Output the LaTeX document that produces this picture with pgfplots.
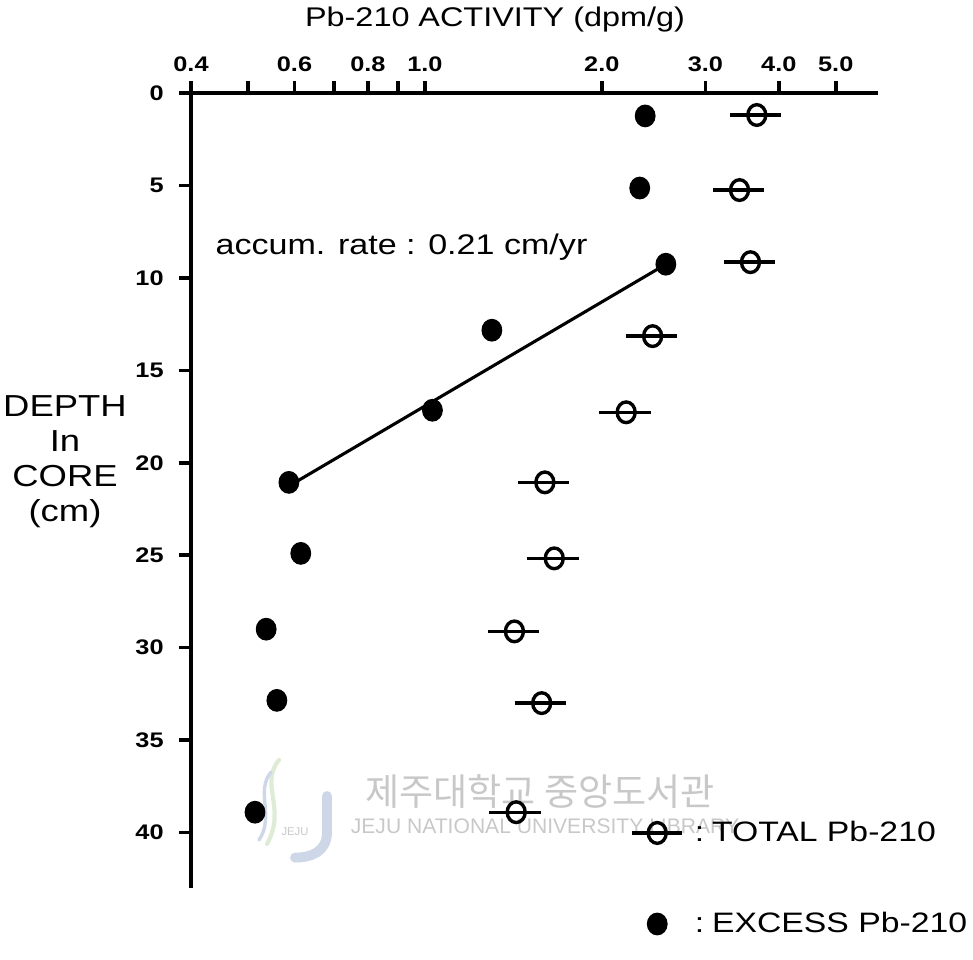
\documentclass[border=0pt]{standalone}
\usepackage{pgfplots}
\pgfplotsset{compat=1.18}
\usepackage{fontspec}
\setmainfont{Liberation Sans}[FakeStretch=1.2]
\newfontfamily\plainsans{Liberation Sans}
\newfontfamily\kr{Noto Sans CJK KR}
\definecolor{wm}{RGB}{200,200,200}
\definecolor{wmblue}{RGB}{205,215,232}
\definecolor{wmgreen}{RGB}{222,236,215}
\begin{document}
\begin{tikzpicture}[x=1cm,y=1cm]
\path[use as bounding box] (-2.3875,-0.8875) rectangle (9.775,11.1);
% watermark
\draw[line width=3.5pt, wmblue, line cap=round] (1.7,1.15) -- (1.7,0.7) .. controls (1.7,0.45) and (1.5,0.38) .. (1.3,0.38);
\draw[line width=1.5pt, wmgreen, line cap=round] (1.1,1.6) .. controls (0.85,1.3) and (1.2,1.0) .. (0.95,0.55);
\draw[line width=1.2pt, wmblue, line cap=round] (1.0,1.45) .. controls (0.8,1.2) and (1.05,0.9) .. (0.85,0.6);
\node[wm, font=\plainsans\fontsize{4}{5}\selectfont] at (1.3,0.7) {JEJU};
\node[wm, font=\kr\fontsize{13.2}{15}\selectfont] at (4.3625,1.2) {제주대학교 중앙도서관};
\node[wm, font=\plainsans\fontsize{7.5}{9}\selectfont] at (4.425,0.775) {JEJU NATIONAL UNIVERSITY LIBRARY};
\begin{axis}[
  at={(0,0)}, anchor=south west, scale only axis,
  width=8.5875cm, height=9.9375cm,
  xmode=log, xmin=0.4, xmax=5.9,
  ymin=0, ymax=43, y dir=reverse,
  axis x line*=top, axis y line*=left,
  axis line style={-, line width=1.3pt},
  xtick={0.4,0.5,0.6,0.7,0.8,0.9,1,2,3,4,5},
  xticklabels={0.4,,0.6,,0.8,,1.0,2.0,3.0,4.0,5.0},
  minor xtick={},
  ytick={0,5,10,15,20,25,30,35,40},
  tick align=outside, major tick length=4.2pt,
  every tick/.style={line width=1.3pt, black},
  tick label style={font=\fontsize{7.5}{9}\selectfont\bfseries},
  yticklabel style={xshift=-2pt},
  /pgf/number format/assume math mode=true,
  clip=false,
  legend style={draw=none, fill=none, at={(0.639,0.012)}, anchor=west,
    font=\fontsize{10}{12}\selectfont, row sep=0.69cm, inner sep=0pt,
    /tikz/every odd column/.style={column sep=0.065cm}},
  legend cell align=left,
]
\addplot[only marks, mark=o, mark size=3.2pt,
  mark options={line width=1.2pt, yscale=1.15},
  legend image code/.code={
    \draw[line width=1.2pt] (0cm,0cm) -- (0.625cm,0cm);
    \draw[line width=1.2pt] (0.3125cm,0cm) ellipse[x radius=3.2pt, y radius=3.7pt];},
  error bars/.cd, x dir=both, x explicit relative,
  error bar style={line width=1.2pt}, error mark=none]
  table[x=x, y=y, x error=e] {
x y e
3.67 1.19 0.1
3.43 5.25 0.1
3.58 9.15 0.1
2.44 13.15 0.1
2.20 17.27 0.1
1.60 21.06 0.1
1.66 25.17 0.1
1.42 29.12 0.1
1.58 33.0 0.1
1.43 38.9 0.1
};
\addlegendentry{:\hspace{2.8pt}TOTAL Pb-210}
\addplot[only marks, mark=*, mark size=3.5pt, mark options={yscale=1.1},
  legend image code/.code={
    \fill (0.3125cm,0cm) ellipse[x radius=3.5pt, y radius=3.85pt];}]
  table[x=x, y=y] {
x y
2.37 1.24
2.32 5.14
2.57 9.26
1.30 12.83
1.03 17.16
0.587 21.06
0.615 24.9
0.537 29.0
0.560 32.85
0.514 38.9
};
\addlegendentry{:\hspace{2.8pt}EXCESS Pb-210}
\addplot[line width=1.1pt, no marks, forget plot] coordinates {(0.606,21.0) (2.59,9.2)};
\end{axis}
\node[font=\fontsize{9.6}{11}\selectfont] at (3.8,10.85) {Pb-210 ACTIVITY (dpm/g)};
\node[align=center, font=\fontsize{10.8}{12.4}\selectfont] at (-1.575,5.325) {DEPTH\\In\\CORE\\(cm)};
\node[anchor=west, inner sep=0pt, font=\fontsize{10.1}{12}\selectfont] at (0.3,8.0125) {accum. rate : 0.21 cm/yr};
\end{tikzpicture}
\end{document}
